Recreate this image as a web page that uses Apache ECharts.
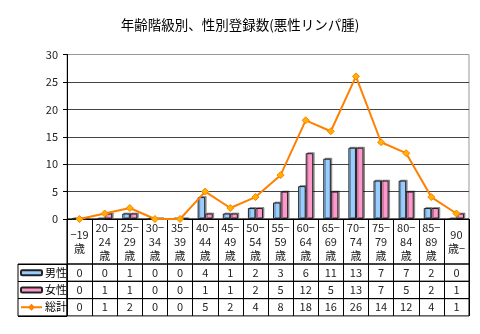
<!DOCTYPE html>
<html><head><meta charset="utf-8">
<script src="https://cdn.jsdelivr.net/npm/echarts@6/dist/echarts.min.js"></script>
<style>html,body{margin:0;padding:0;background:#fff}#c{width:480px;height:334px}</style>
</head><body><div id="c"></div>
<script>
const chartTitle = '年齢階級別、性別登録数(悪性リンパ腫)';
const categories = ['−19\n歳','20−\n24\n歳','25−\n29\n歳','30−\n34\n歳','35−\n39\n歳','40−\n44\n歳','45−\n49\n歳','50−\n54\n歳','55−\n59\n歳','60−\n64\n歳','65−\n69\n歳','70−\n74\n歳','75−\n79\n歳','80−\n84\n歳','85−\n89\n歳','90\n歳−'];
const male   = [0,0,1,0,0,4,1,2,3,6,11,13,7,7,2,0];
const female = [0,1,1,0,0,1,1,2,5,12,5,13,7,5,2,1];
const total  = [0,1,2,0,0,5,2,4,8,18,16,26,14,12,4,1];
const seriesNames = ['男性','女性','総計'];
const yMin = 0, yMax = 30, yInterval = 5;

const FONT = '"Noto Sans CJK JP", sans-serif';
const L = 67, R = 11;
const rowTops = [264, 281.3, 298.6], rowH = 17.3;
const rowData = [male, female, total];

const grids = [
  {left: L, right: R, top: 54.5, height: 164.5, show: true, borderColor: '#999', borderWidth: 1, backgroundColor: 'transparent'},
  {left: L, right: R, top: 219, height: 45, show: true, borderColor: '#000', borderWidth: 1, backgroundColor: 'transparent'}
];
rowTops.forEach(t => grids.push({left: L, right: R, top: t, height: rowH, show: true, borderColor: '#000', borderWidth: 1, backgroundColor: 'transparent'}));
grids.push({left: 18, width: 49, top: rowTops[0], height: rowH * 3, show: true, borderColor: '#000', borderWidth: 1, backgroundColor: 'transparent'});

const xAxes = [
  {gridIndex: 0, type: 'category', data: categories, axisLine: {lineStyle: {color: '#000'}}, axisTick: {show: false}, axisLabel: {show: false}},
  {gridIndex: 1, type: 'category', data: categories, axisLine: {show: false}, axisTick: {show: false},
   axisLabel: {interval: 0, margin: -22.5, verticalAlign: 'middle', lineHeight: 14, fontSize: 11, color: '#222', fontFamily: FONT},
   splitLine: {show: true, interval: 0, lineStyle: {color: '#000', width: 1}}}
];
rowData.forEach((arr, k) => xAxes.push({gridIndex: 2 + k, type: 'category', data: categories, axisLine: {show: false}, axisTick: {show: false},
  axisLabel: {interval: 0, margin: -rowH / 2, verticalAlign: 'middle', fontSize: 11, color: '#222', fontFamily: FONT, formatter: (v, i) => String(arr[i])},
  splitLine: {show: true, interval: 0, lineStyle: {color: '#000', width: 1}}}));
xAxes.push({gridIndex: 5, type: 'value', show: false});

const yAxes = [
  {gridIndex: 0, type: 'value', min: yMin, max: yMax, interval: yInterval,
   axisLine: {show: true, lineStyle: {color: '#000'}}, axisTick: {show: true, length: 4, lineStyle: {color: '#000'}},
   axisLabel: {fontSize: 11, color: '#222', margin: 9, fontFamily: FONT},
   splitLine: {lineStyle: {color: ['#444','#444','#444','#444','#444','#444','#999'], width: 1}}},
  {gridIndex: 1, type: 'value', show: false}
];
rowData.forEach((arr, k) => yAxes.push({gridIndex: 2 + k, type: 'value', show: false}));
yAxes.push({gridIndex: 5, type: 'category', data: seriesNames, inverse: true, axisLine: {show: false}, axisTick: {show: false}, axisLabel: {show: false},
  splitLine: {show: true, interval: 0, lineStyle: {color: '#000', width: 1}}});

const option = {
  animation: false,
  backgroundColor: '#fff',
  textStyle: {fontFamily: FONT},
  title: {text: chartTitle, left: 'center', top: 13, textStyle: {fontSize: 13.5, fontWeight: 'normal', color: '#000', fontFamily: FONT}},
  legend: {
    orient: 'vertical', left: 20, top: rowTops[0], padding: 0, itemGap: 0, itemWidth: 21, itemHeight: 5,
    data: seriesNames,
    textStyle: {fontSize: 11, color: '#000', lineHeight: rowH, padding: [0, 0, 0, -2], fontFamily: FONT}
  },
  grid: grids,
  xAxis: xAxes,
  yAxis: yAxes,
  series: [
    {name: seriesNames[0], type: 'bar', data: male, barWidth: '30%', barGap: '0%',
     itemStyle: {color: '#99CCFF', borderColor: '#222', borderWidth: 1, shadowColor: 'rgba(0,0,0,0.35)', shadowOffsetX: 1.5, shadowOffsetY: -1}},
    {name: seriesNames[1], type: 'bar', data: female, barWidth: '30%', barGap: '0%',
     itemStyle: {color: '#FF99CC', borderColor: '#222', borderWidth: 1, shadowColor: 'rgba(0,0,0,0.35)', shadowOffsetX: 1.5, shadowOffsetY: -1}},
    {name: seriesNames[2], type: 'line', data: total, symbol: 'diamond', symbolSize: 7,
     lineStyle: {color: '#FF8000', width: 2}, itemStyle: {color: '#FFB300', borderColor: '#FF8000', borderWidth: 1}}
  ]
};
const chart = echarts.init(document.getElementById('c'), null, {renderer: 'canvas'});
chart.setOption(option);
</script>
</body></html>
